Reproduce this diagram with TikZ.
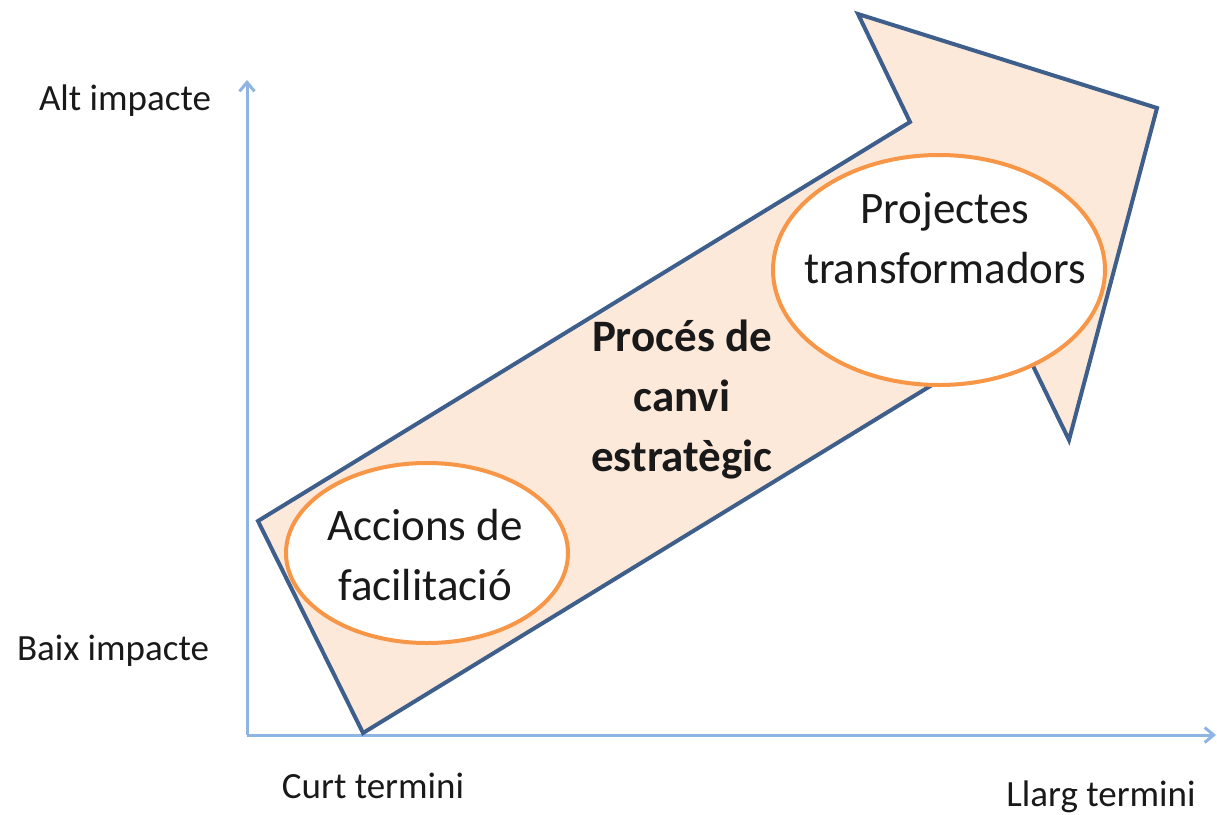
\documentclass[tikz,border=0pt]{standalone}
\usepackage{fontspec}
\setmainfont{Carlito}
\usetikzlibrary{arrows.meta}
\definecolor{axisblue}{HTML}{8EB4E3}
\definecolor{arrowblue}{HTML}{3E5F8C}
\definecolor{peach}{HTML}{FDE9D9}
\definecolor{ellorange}{HTML}{F79646}
\begin{document}
\begin{tikzpicture}[x=1pt,y=-1pt,
  axis/.style={draw=axisblue,line width=3pt,-{Straight Barb[length=9pt,width=15pt,line width=3pt]}},
  bigarrow/.style={draw=arrowblue,fill=peach,line width=4pt,line join=miter},
  ell/.style={draw=ellorange,fill=white,line width=4pt},
  lab/.style={font=\fontsize{37}{44}\selectfont,text=black!90},
  intext/.style={font=\fontsize{45}{60}\selectfont,align=center,text=black!90}]
\useasboundingbox (0,0) rectangle (1217,814);
% axes
\coordinate (O) at (247,735);
\coordinate (Ytop) at (247,80);
\coordinate (Xend) at (1216,735);
\draw[axis] (O) -- (Ytop);
\draw[axis] (O) -- (Xend);
% big arrow
\coordinate (p1) at (363,733);
\coordinate (p2) at (258,521);
\coordinate (p3) at (910,122);
\coordinate (p4) at (858,14);
\coordinate (p5) at (1157,108);
\coordinate (p6) at (1069,440);
\coordinate (p7) at (1017,333);
\draw[bigarrow] (p1) -- (p2) -- (p3) -- (p4) -- (p5) -- (p6) -- (p7) -- cycle;
% ellipses
\draw[ell] (427,553) ellipse [x radius=141pt, y radius=90pt];
\node[intext] (acc) at (425,555) {Accions de\\facilitació};
\draw[ell] (939,270) ellipse [x radius=166pt, y radius=115pt];
\node[intext] (proj) at (945,238) {Projectes\\transformadors};
\node[intext,font=\fontsize{45}{60}\selectfont\bfseries] (proc) at (682,400) {Procés de\\canvi\\estratègic};
% axis labels
\node[lab] (alt) at (125,101) {Alt impacte};
\node[lab] (baix) at (113,651) {Baix impacte};
\node[lab] (curt) at (373,786) {Curt termini};
\node[lab] (llarg) at (1101,797) {Llarg termini};
\end{tikzpicture}
\end{document}
